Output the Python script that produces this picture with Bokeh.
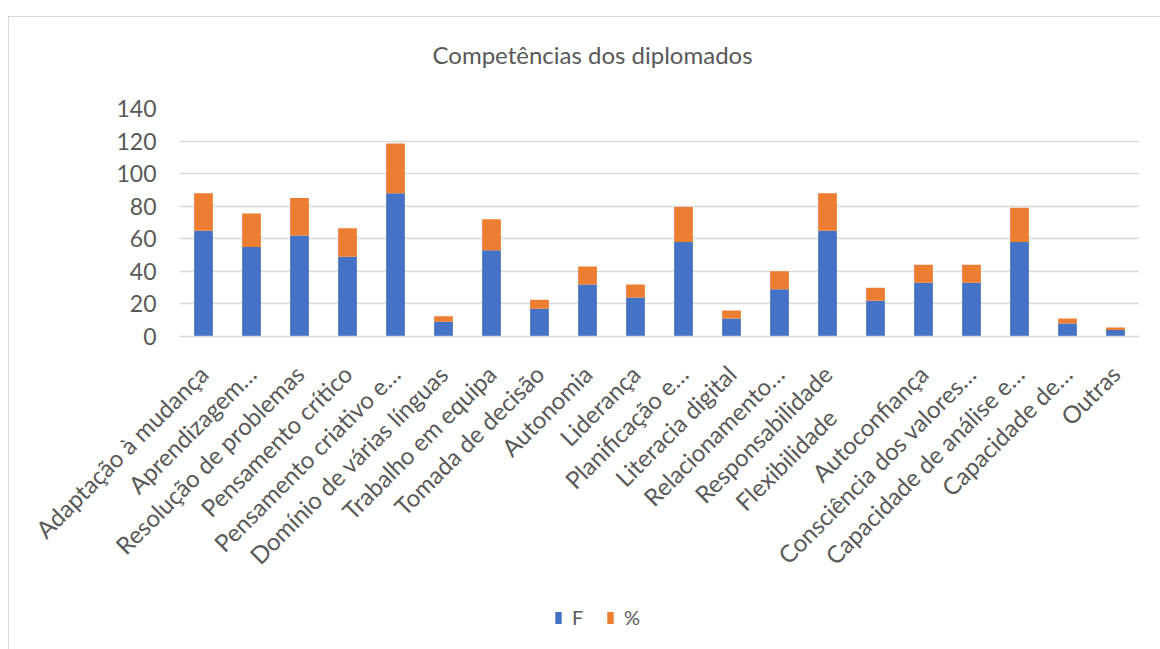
import math

from bokeh.embed import file_html
from bokeh.layouts import column
from bokeh.models import (ColumnDataSource, FactorRange, Legend, LegendItem,
                          Range1d, SingleIntervalTicker, Title)
from bokeh.plotting import figure
from bokeh.resources import INLINE

# Competências e respetivas frequências (F) e percentagens (%)
competencias = [
    "Adaptação à mudança",
    "Aprendizagem…",
    "Resolução de problemas",
    "Pensamento crítico",
    "Pensamento criativo e…",
    "Domínio de várias línguas",
    "Trabalho em equipa",
    "Tomada de decisão",
    "Autonomia",
    "Liderança",
    "Planificação e…",
    "Literacia digital",
    "Relacionamento…",
    "Responsabilidade",
    "Flexibilidade" + "\u00a0" * 10,
    "Autoconfiança",
    "Consciência dos valores…",
    "Capacidade de análise e…",
    "Capacidade de…",
    "Outras",
]
frequencia = [65, 55, 62, 49, 88, 9, 53, 17, 32, 24, 58, 11, 29, 65, 22, 33, 33, 58, 8, 4]
percentagem = [23.0, 20.5, 23.0, 17.5, 30.5, 3.5, 19.0, 5.5, 11.0, 8.0,
               21.5, 5.0, 11.0, 23.0, 8.0, 11.0, 11.0, 21.0, 3.0, 1.5]
nomes_series = ["F", "%"]
y_ticks_passo = 20
y_max = 140

FONT = "Lato"
TXT = "#595959"
GRID = "#d9d9d9"
AZUL = "#4472C4"
LARANJA = "#ED7D31"
cores = [AZUL, LARANJA]

source = ColumnDataSource(dict(cat=competencias, F=frequencia, pct=percentagem))

# --- gráfico principal -------------------------------------------------------
p = figure(
    x_range=FactorRange(*competencias),
    y_range=Range1d(0, y_max),
    width=1151, height=573,
    output_backend="svg", toolbar_location=None,
    min_border_left=170, min_border_right=21,
    min_border_top=91, min_border_bottom=254,
)

p.vbar_stack(["F", "pct"], x="cat", width=0.39, source=source,
             color=cores, line_color=None)

# espaço entre o título e a área do gráfico
p.add_layout(Title(text=" ", text_font_size="1px", standoff=37), "above")

p.title.text = "Competências dos diplomados"
p.title.text_font = FONT
p.title.text_font_style = "normal"
p.title.text_font_size = "24px"
p.title.text_color = TXT
p.title.align = "left"
p.title.offset = 253
p.title.standoff = 0

p.outline_line_color = None
p.xgrid.grid_line_color = None
p.ygrid.grid_line_color = GRID
p.ygrid.grid_line_width = 1.5

p.yaxis.ticker = SingleIntervalTicker(interval=y_ticks_passo)
p.yaxis.axis_line_color = None
p.yaxis.major_tick_line_color = None
p.yaxis.minor_tick_line_color = None
p.yaxis.major_label_text_font = FONT
p.yaxis.major_label_text_font_size = "23px"
p.yaxis.major_label_text_color = TXT
p.yaxis.major_label_standoff = 17

p.xaxis.axis_line_color = GRID
p.xaxis.axis_line_width = 1.5
p.xaxis.major_tick_line_color = None
p.xaxis.minor_tick_line_color = None
p.xaxis.major_label_orientation = math.pi / 4
p.xaxis.major_label_text_font = FONT
p.xaxis.major_label_text_font_size = "24px"
p.xaxis.major_label_text_color = TXT
p.xaxis.major_label_standoff = 27

# --- legenda (faixa inferior) ------------------------------------------------
leg = figure(
    width=1151, height=59,
    x_range=Range1d(0, 1), y_range=Range1d(0, 1),
    output_backend="svg", toolbar_location=None,
    x_axis_type=None, y_axis_type=None,
    min_border=0,
)
leg.outline_line_color = None
leg.background_fill_color = None
leg.border_fill_color = None
# barras de altura nula: só servem para desenhar as amostras da legenda
swatches = [leg.vbar(x=[0.5], top=[0], bottom=[0], width=0, color=c, line_color=None)
            for c in cores]

legend = Legend(
    items=[LegendItem(label=n, renderers=[r]) for n, r in zip(nomes_series, swatches)],
    orientation="horizontal",
    location=(375, 20),
    glyph_width=8, glyph_height=15,
    label_standoff=10, spacing=14,
    padding=0, margin=0,
    label_text_font=FONT, label_text_font_size="20px", label_text_color=TXT,
    border_line_color=None, background_fill_alpha=0,
)
leg.add_layout(legend)

layout = column(p, leg, spacing=0)
layout.margin = (16, 0, 0, 8)
layout.styles = {"border-top": f"1px solid {GRID}", "border-left": f"1px solid {GRID}"}

open("out.html", "w").write(file_html(layout, INLINE))
